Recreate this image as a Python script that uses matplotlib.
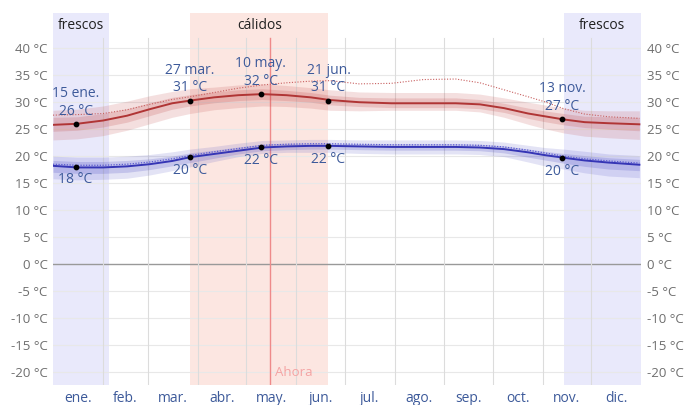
import matplotlib
matplotlib.use("Agg")
import matplotlib.pyplot as plt

plt.rcParams['font.family'] = ['Open Sans', 'DejaVu Sans']

# ---- data (day of year, 0 = 1 Jan) ----
days = [0, 15, 31, 46, 60, 74, 85, 100, 115, 130, 145, 160, 172, 190, 210, 230, 250, 265, 280, 295, 305, 317, 330, 345, 364]
high = [25.8, 26.0, 26.6, 27.5, 28.7, 29.8, 30.3, 30.9, 31.3, 31.5, 31.3, 30.9, 30.4, 30.0, 29.8, 29.8, 29.8, 29.6, 28.9, 27.9, 27.4, 26.8, 26.3, 26.1, 25.9]
high_p10 = [23.0, 23.2, 23.8, 24.8, 26.0, 27.2, 27.9, 28.6, 29.0, 29.3, 29.2, 28.9, 28.5, 28.4, 28.5, 28.5, 28.5, 28.2, 27.2, 25.9, 25.1, 24.3, 23.7, 23.4, 23.1]
high_p25 = [24.6, 24.8, 25.4, 26.3, 27.5, 28.7, 29.3, 29.9, 30.3, 30.5, 30.3, 30.0, 29.5, 29.2, 29.0, 29.0, 29.0, 28.8, 28.1, 27.0, 26.4, 25.8, 25.3, 25.0, 24.7]
high_p75 = [27.2, 27.3, 27.9, 28.8, 29.9, 30.9, 31.4, 31.9, 32.3, 32.5, 32.2, 31.8, 31.3, 30.9, 30.8, 30.8, 30.8, 30.5, 29.8, 28.9, 28.4, 27.9, 27.4, 27.3, 27.2]
high_p90 = [28.5, 28.7, 29.3, 30.2, 31.2, 32.0, 32.5, 32.8, 33.2, 33.4, 33.1, 32.7, 32.3, 31.9, 31.8, 31.8, 31.8, 31.5, 30.8, 30.0, 29.5, 28.9, 28.5, 28.4, 28.4]
high_feel = [27.6, 27.7, 27.9, 28.6, 29.6, 30.5, 31.0, 31.8, 32.6, 33.2, 33.6, 33.9, 34.0, 33.4, 33.5, 34.2, 34.3, 33.6, 32.3, 31.0, 30.1, 28.8, 27.8, 27.3, 27.0]

low = [18.2, 17.9, 17.9, 18.1, 18.5, 19.1, 19.8, 20.4, 21.0, 21.6, 21.8, 21.9, 21.9, 21.8, 21.7, 21.7, 21.7, 21.6, 21.3, 20.7, 20.2, 19.7, 19.2, 18.8, 18.4]
low_p10 = [15.8, 15.6, 15.7, 15.9, 16.5, 17.3, 18.0, 19.0, 19.9, 20.5, 20.7, 20.7, 20.7, 20.5, 20.4, 20.4, 20.4, 20.3, 19.9, 18.9, 18.2, 17.6, 16.9, 16.3, 16.0]
low_p25 = [17.0, 16.8, 16.8, 17.0, 17.5, 18.2, 18.8, 19.6, 20.4, 21.0, 21.2, 21.3, 21.3, 21.2, 21.1, 21.1, 21.1, 21.0, 20.6, 19.8, 19.3, 18.7, 18.1, 17.6, 17.3]
low_p75 = [19.2, 19.0, 19.0, 19.2, 19.5, 20.0, 20.6, 21.1, 21.7, 22.2, 22.4, 22.4, 22.4, 22.3, 22.3, 22.3, 22.3, 22.2, 21.9, 21.3, 20.9, 20.5, 20.1, 19.7, 19.4]
low_p90 = [20.0, 19.8, 19.8, 20.0, 20.3, 20.8, 21.3, 21.8, 22.4, 22.9, 23.0, 23.1, 23.1, 23.0, 23.0, 23.0, 23.0, 22.9, 22.6, 22.0, 21.6, 21.3, 20.9, 20.4, 20.1]
low_feel = [18.5, 18.3, 18.3, 18.5, 18.9, 19.5, 20.1, 20.8, 21.4, 22.0, 22.2, 22.3, 22.3, 22.2, 22.1, 22.1, 22.1, 22.0, 21.7, 21.1, 20.6, 20.0, 19.5, 19.1, 18.7]

ann_days = [14, 85, 129, 171, 316]
ann_high = [25.9, 30.3, 31.5, 30.3, 26.8]
ann_low = [18.05, 19.8, 21.6, 21.9, 19.7]
ann_dates = ["15 ene.", "27 mar.", "10 may.", "21 jun.", "13 nov."]
ann_high_txt = ["26 °C", "31 °C", "32 °C", "31 °C", "27 °C"]
ann_low_txt = ["18 °C", "20 °C", "22 °C", "22 °C", "20 °C"]

month_starts = [0, 31, 59, 90, 120, 151, 181, 212, 243, 273, 304, 334, 365]
months = ["ene.", "feb.", "mar.", "abr.", "may.", "jun.", "jul.", "ago.", "sep.", "oct.", "nov.", "dic."]
yticks = [40, 35, 30, 25, 20, 15, 10, 5, 0, -5, -10, -15, -20]

cool_periods = [(0, 35), (317, 365)]
warm_period = (85, 171)
now_day = 135

# ---- figure ----
fig = plt.figure(figsize=(6.86, 4.05), dpi=100)
ax = fig.add_axes([53 / 686, 1 - 385 / 405, 588 / 686, (385 - 12.7) / 405])
ax.set_xlim(0, 365)
ax.set_ylim(-22.45, 46.6)
ax.axis('off')

# seasonal shading
for a, b in cool_periods:
    ax.axvspan(a, b, color='#e9e9fb', zorder=0, lw=0)
ax.axvspan(warm_period[0], warm_period[1], color='#fce6e1', zorder=0, lw=0)
ax.text((cool_periods[0][0] + cool_periods[0][1]) / 2, 44.2, "frescos", ha='center', va='center', fontsize=10, color='#222222')
ax.text((cool_periods[1][0] + cool_periods[1][1]) / 2, 44.2, "frescos", ha='center', va='center', fontsize=10, color='#222222')
ax.text((warm_period[0] + warm_period[1]) / 2, 44.2, "cálidos", ha='center', va='center', fontsize=10, color='#222222')

# grid
for t in yticks:
    ax.plot([0, 365], [t, t], color='#999999' if t == 0 else '#e8e8e8', lw=1.0 if t == 0 else 0.8, zorder=1)
for m in month_starts[1:-1]:
    ax.plot([m, m], [-22.45, 41.9], color='#dcdcdc', lw=0.8, zorder=1)

# now line
ax.plot([now_day, now_day], [-22.45, 41.9], color='#ee8a8a', lw=1.0, zorder=1)
ax.text(now_day + 3, -20.2, "Ahora", color='#f4a3a3', fontsize=9.5, ha='left', va='center')

# bands
ax.fill_between(days, high_p10, high_p90, color='#c04545', alpha=0.17, lw=0, zorder=2)
ax.fill_between(days, high_p25, high_p75, color='#c04545', alpha=0.2, lw=0, zorder=2)
ax.fill_between(days, low_p10, low_p90, color='#4545c0', alpha=0.15, lw=0, zorder=2)
ax.fill_between(days, low_p25, low_p75, color='#4545c0', alpha=0.2, lw=0, zorder=2)

# lines
ax.plot(days, high, color='#b03535', lw=1.4, zorder=3)
ax.plot(days, low, color='#3535b5', lw=1.4, zorder=3)
ax.plot(days, high_feel, color='#c86060', lw=0.8, ls=(0, (1, 1.5)), zorder=3)
ax.plot(days, low_feel, color='#5a5ad0', lw=0.9, ls=(0, (1, 1.2)), zorder=3)

# annotations
ax.scatter(ann_days, ann_high, s=10, color='black', zorder=4)
ax.scatter(ann_days, ann_low, s=10, color='black', zorder=4)
ann_color = '#3d5a9a'
for d, h, l, dt, ht, lt in zip(ann_days, ann_high, ann_low, ann_dates, ann_high_txt, ann_low_txt):
    ax.annotate(dt, (d, h), xytext=(0, 22), textcoords='offset points', ha='center', va='center', fontsize=10, color=ann_color)
    ax.annotate(ht, (d, h), xytext=(0, 9.4), textcoords='offset points', ha='center', va='center', fontsize=10, color=ann_color)
    ax.annotate(lt, (d, l), xytext=(0, -9.6), textcoords='offset points', ha='center', va='center', fontsize=10, color=ann_color)

# tick labels
for t in yticks:
    ax.text(-3.3, t - 0.3, f"{t} °C", ha='right', va='center', fontsize=9.5, color='#6e6e6e')
    ax.text(368.5, t - 0.3, f"{t} °C", ha='left', va='center', fontsize=9.5, color='#6e6e6e')
for i, mname in enumerate(months):
    ax.text((month_starts[i] + month_starts[i + 1]) / 2, -24.9, mname, ha='center', va='center', fontsize=10, color='#3d5a9a', clip_on=False)

fig.savefig("out.png", dpi=100)
